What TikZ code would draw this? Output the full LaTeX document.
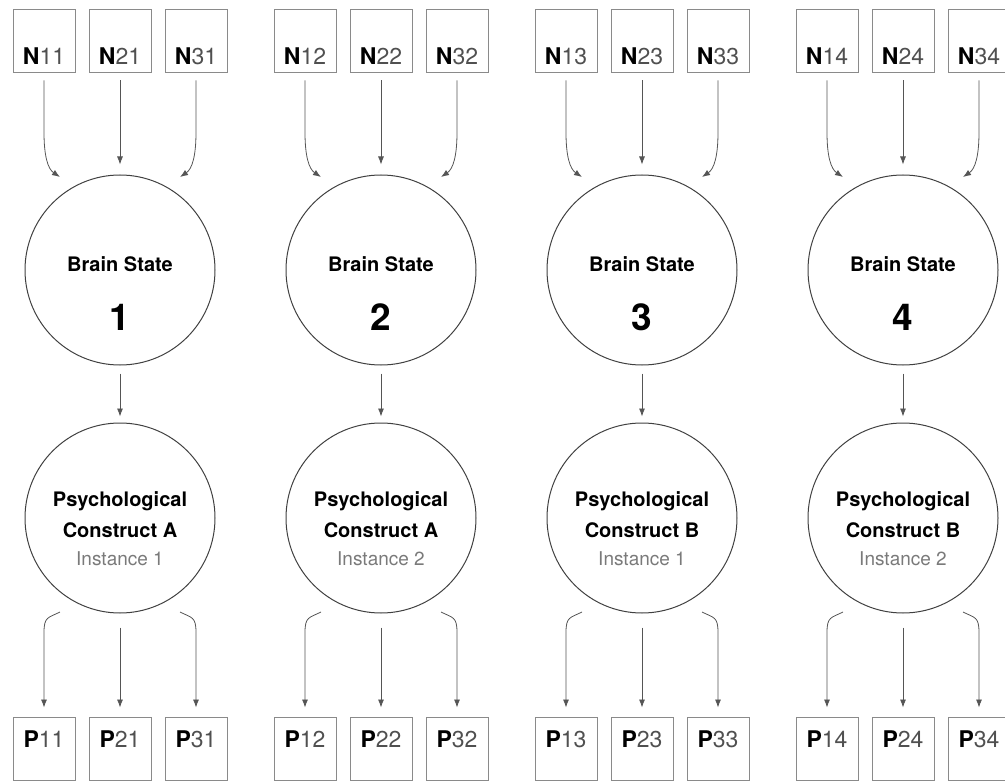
\documentclass[tikz,border=0pt]{standalone}
\usepackage{fontspec}
\setmainfont{TeX Gyre Heros}
\usetikzlibrary{arrows.meta,calc}
\definecolor{linegray}{HTML}{555555}
\definecolor{boxgray}{HTML}{8A8A8A}
\definecolor{digitgray}{HTML}{505050}
\definecolor{softgray}{HTML}{7A7A7A}
\newcommand\boxlabel[2]{\textbf{#1}{\color{digitgray}#2}}
\tikzset{
  box/.style={draw=boxgray, line width=0.9pt, minimum width=62pt, minimum height=63pt, inner sep=0pt},
  state/.style={circle, draw=black!75, line width=1pt, minimum size=190pt, inner sep=0pt},
  arr/.style={draw=linegray, line width=0.8pt, -{Latex[length=8pt,width=6pt]}},
  boxtext/.style={anchor=base, inner sep=0pt, font=\fontsize{23}{26}\selectfont},
  headtext/.style={anchor=base, inner sep=0pt, font=\bfseries\fontsize{20}{24}\selectfont},
  numtext/.style={anchor=base, inner sep=0pt, font=\bfseries\fontsize{37}{40}\selectfont},
  insttext/.style={anchor=base, inner sep=0pt, text=softgray, font=\fontsize{19}{22}\selectfont},
}
\begin{document}
\begin{tikzpicture}[x=1pt,y=-1pt]
\useasboundingbox (0,0) rectangle (1005,781);
\foreach \g/\con/\inst in {1/A/1,2/A/2,3/B/1,4/B/2} {
  \pgfmathsetmacro\cx{120+261*(\g-1)}
  % the two circles of one column
  \node[state] (bs\g) at (\cx,270) {};
  \node[state] (pc\g) at (\cx,518) {};
  \node[headtext] (bst\g) at (\cx,272) {Brain State};
  \node[numtext] (bsn\g) at (\cx,330) {\g};
  \node[headtext] (pct\g) at (\cx,506) {Psychological};
  \node[headtext] (pcc\g) at (\cx,537) {Construct \con};
  \node[insttext] (pci\g) at (\cx,565) {Instance \inst};
  % input and output boxes
  \foreach \i [evaluate=\i as \dx using 76*(\i-2)] in {1,2,3} {
    \node[box] (n\i\g) at (\cx+\dx,40.5) {};
    \node[boxtext] (nt\i\g) at (\cx+\dx,65) {\boxlabel{N}{\i\g}};
    \node[box] (p\i\g) at (\cx+\dx,748.5) {};
    \node[boxtext] (pt\i\g) at (\cx+\dx,747) {\boxlabel{P}{\i\g}};
  }
  % inputs into the brain state
  \coordinate (tl\g) at ($(bs\g.center)+(-60,-93)$);
  \coordinate (tr\g) at ($(bs\g.center)+(60,-93)$);
  \draw[arr, shorten <=8pt, shorten >=10pt] (n2\g.south) -- (bs\g.north);
  \draw[arr, shorten <=8pt] (n1\g.south) -- ++(0,60) .. controls +(0,24) and +(-12,-8) .. (tl\g);
  \draw[arr, shorten <=8pt] (n3\g.south) -- ++(0,60) .. controls +(0,24) and +(12,-8) .. (tr\g);
  % brain state to construct
  \draw[arr, shorten <=8pt, shorten >=6pt] (bs\g.south) -- (pc\g.north);
  % construct to outputs
  \coordinate (sl\g) at ($(pc\g.center)+(-60,94)$);
  \coordinate (sr\g) at ($(pc\g.center)+(60,94)$);
  \draw[arr, shorten <=14pt, shorten >=9pt] (pc\g.south) -- (p2\g.north);
  \draw[arr, shorten >=9pt] (sl\g) .. controls +(-12,6) and +(0,-16) .. ($(p1\g.north)+(0,-84)$) -- (p1\g.north);
  \draw[arr, shorten >=9pt] (sr\g) .. controls +(12,6) and +(0,-16) .. ($(p3\g.north)+(0,-84)$) -- (p3\g.north);
}
\end{tikzpicture}
\end{document}
